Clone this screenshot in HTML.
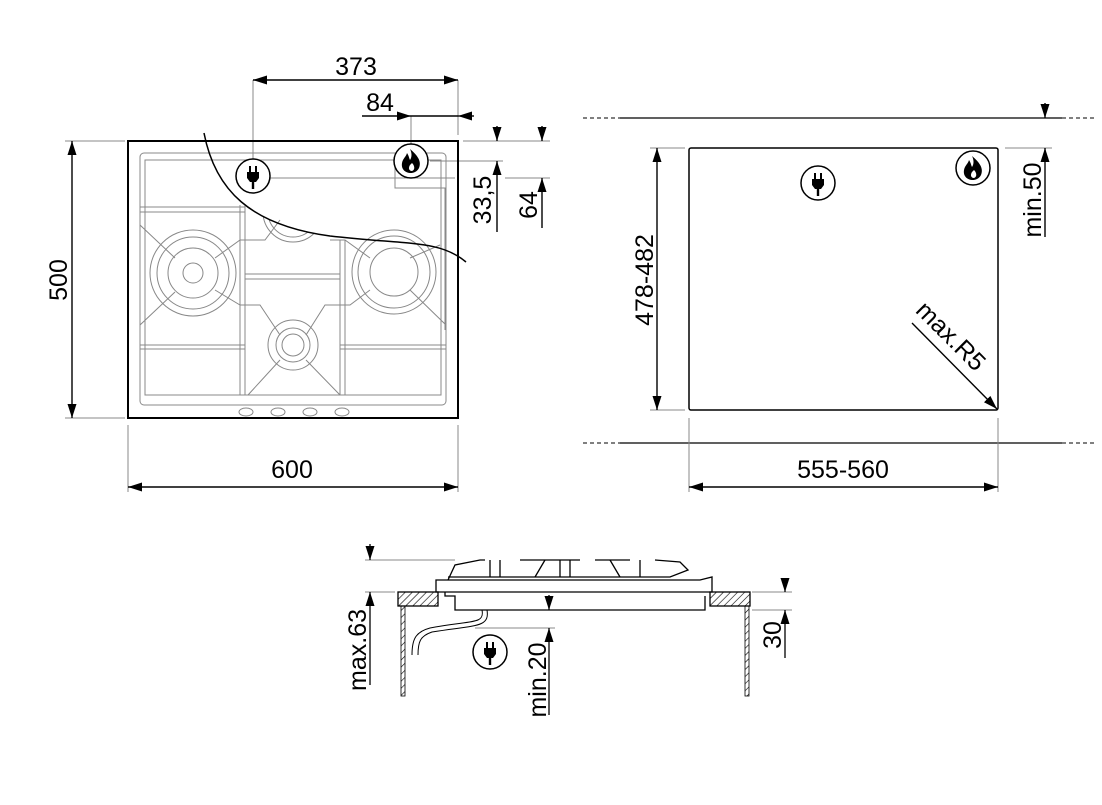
<!DOCTYPE html>
<html><head><meta charset="utf-8"><style>
html,body{margin:0;padding:0;background:#fff;}
svg{display:block;}
text{font-family:"Liberation Sans",sans-serif;fill:#000;}
</style></head><body>
<svg width="1102" height="805" viewBox="0 0 1102 805" xmlns="http://www.w3.org/2000/svg">
<defs>
<marker id="a" viewBox="0 0 14 9" refX="14" refY="4.5" markerWidth="14" markerHeight="9" markerUnits="userSpaceOnUse" orient="auto"><path d="M0,0 L14,4.5 L0,9 z" fill="#000"/></marker>
<pattern id="h" width="5" height="5" patternUnits="userSpaceOnUse" patternTransform="rotate(45)"><line x1="0" y1="0" x2="0" y2="5" stroke="#000" stroke-width="1.2"/></pattern>
<clipPath id="below"><path d="M204,133 C215,190 250,225 330,236 C410,245 440,240 466,262 L466,430 L120,430 L120,133 z"/></clipPath>
<g id="plug"><circle r="17" fill="#fff" stroke="#000" stroke-width="1.5"/><rect x="-4" y="-10" width="2" height="6"/><rect x="2" y="-10" width="2" height="6"/><path d="M-6,-4 H6 V2 L3,6 H-3 L-6,2 z"/><rect x="-1.2" y="5" width="2.4" height="8"/></g>
<g id="flame"><circle r="17" fill="#fff" stroke="#000" stroke-width="1.5"/><path d="M-1,-12 C6,-6 11,0 8,7 C6,11 2,12 0,12 C-6,12 -10,8 -9,2 C-8,-3 -5,-4 -4,-8 C-2,-5 -2,-3 -1,-1 C1,-4 1,-8 -1,-12 z"/><path d="M1,2 C4,5 4,9 1,10 C-2,10 -3,7 -1,4 z" fill="#fff"/></g>
</defs>
<g stroke="#000" fill="none">
<g stroke="#888" stroke-width="1">
<rect x="140" y="153" width="306" height="252" rx="4"/>
<rect x="145" y="160" width="296" height="235"/>
<line x1="140" y1="207" x2="245" y2="207"/><line x1="140" y1="212" x2="245" y2="212"/>
<line x1="140" y1="345" x2="245" y2="345"/><line x1="140" y1="349" x2="245" y2="349"/>
<line x1="340" y1="345" x2="446" y2="345"/><line x1="340" y1="349" x2="446" y2="349"/>
<line x1="240" y1="205" x2="240" y2="395"/><line x1="245" y1="205" x2="245" y2="395"/>
<line x1="340" y1="240" x2="340" y2="395"/><line x1="345" y1="240" x2="345" y2="395"/>
<line x1="245" y1="274" x2="340" y2="274"/><line x1="245" y1="279" x2="340" y2="279"/>
<circle cx="193" cy="273" r="43"/><circle cx="193" cy="273" r="36"/><circle cx="193" cy="273" r="25"/><circle cx="193" cy="273" r="10"/>
<circle cx="394" cy="272" r="42"/><circle cx="394" cy="272" r="36"/><circle cx="394" cy="272" r="24"/>
<circle cx="293" cy="345" r="25"/><circle cx="293" cy="345" r="17"/><circle cx="293" cy="345" r="11"/>
<g clip-path="url(#below)"><circle cx="293" cy="212" r="30"/><circle cx="293" cy="212" r="25"/></g>
<path d="M140,225 L175,258 M140,325 L175,292 M215,258 L240,240 L265,240 L280,220 M215,290 L240,305 L260,305 L280,335 M306,335 L325,305 L350,305 L370,290 M370,258 L345,240 L330,240 M410,258 L440,245 M410,290 L446,325 M280,360 L248,395 M306,360 L340,395"/>
<ellipse cx="246" cy="412" rx="7" ry="4"/><ellipse cx="278" cy="412" rx="7" ry="4"/><ellipse cx="310" cy="412" rx="7" ry="4"/><ellipse cx="342" cy="412" rx="7" ry="4"/>
<line x1="270" y1="178" x2="455" y2="178"/><line x1="430" y1="161" x2="503" y2="161"/>
<path d="M395,168 V188 H445 V330"/>
<line x1="463" y1="141" x2="550" y2="141"/><line x1="505" y1="178" x2="550" y2="178"/>
<line x1="253" y1="80" x2="253" y2="160"/><line x1="458" y1="80" x2="458" y2="135"/>
<line x1="411" y1="116" x2="411" y2="144"/>
<line x1="65" y1="141" x2="125" y2="141"/><line x1="65" y1="418" x2="125" y2="418"/>
<line x1="128" y1="425" x2="128" y2="492"/><line x1="458" y1="425" x2="458" y2="492"/>
</g>
<rect x="128" y="141" width="330" height="277" stroke-width="2"/>
<path d="M204,133 C215,190 250,225 330,236 C410,245 440,240 466,262" stroke-width="1.5"/>
<g stroke-width="1.4">
<line x1="72" y1="280" x2="72" y2="141" marker-end="url(#a)"/><line x1="72" y1="280" x2="72" y2="418" marker-end="url(#a)"/>
<line x1="293" y1="487" x2="128" y2="487" marker-end="url(#a)"/><line x1="293" y1="487" x2="458" y2="487" marker-end="url(#a)"/>
<line x1="356" y1="80" x2="253" y2="80" marker-end="url(#a)"/><line x1="356" y1="80" x2="458" y2="80" marker-end="url(#a)"/>
<line x1="362" y1="116" x2="411" y2="116" marker-end="url(#a)"/><line x1="411" y1="116" x2="458" y2="116"/><line x1="474" y1="116" x2="458" y2="116" marker-end="url(#a)"/>
<line x1="497" y1="126" x2="497" y2="141" marker-end="url(#a)"/>
<path d="M497,161 V232"/>
<line x1="542" y1="126" x2="542" y2="141" marker-end="url(#a)"/><line x1="542" y1="228" x2="542" y2="178" marker-end="url(#a)"/>
</g>
<path d="M497,161 L492.5,175 L501.5,175 z" fill="#000" stroke="none"/>
</g>
<use href="#plug" x="253" y="176"/><use href="#flame" x="411" y="161"/>
<text x="356" y="75" font-size="25" text-anchor="middle">373</text>
<text x="380" y="111" font-size="25" text-anchor="middle">84</text>
<text x="292" y="478" font-size="25" text-anchor="middle">600</text>
<text transform="translate(67,280) rotate(-90)" font-size="25" text-anchor="middle">500</text>
<text transform="translate(491,200) rotate(-90)" font-size="25" text-anchor="middle">33,5</text>
<text transform="translate(537,205) rotate(-90)" font-size="25" text-anchor="middle">64</text>

<g stroke="#000" fill="none">
<line x1="620" y1="118" x2="1062" y2="118" stroke-width="1.2"/><line x1="583" y1="118" x2="620" y2="118" stroke-dasharray="4,3"/><line x1="1062" y1="118" x2="1095" y2="118" stroke-dasharray="4,3"/>
<line x1="620" y1="443" x2="1062" y2="443" stroke-width="1.2"/><line x1="583" y1="443" x2="620" y2="443" stroke-dasharray="4,3"/><line x1="1062" y1="443" x2="1095" y2="443" stroke-dasharray="4,3"/>
<rect x="689" y="148" width="309" height="262" rx="2" stroke-width="1.5"/>
<g stroke="#888"><line x1="650" y1="148" x2="685" y2="148"/><line x1="650" y1="410" x2="685" y2="410"/><line x1="1005" y1="148" x2="1052" y2="148"/><line x1="689" y1="418" x2="689" y2="492"/><line x1="998" y1="418" x2="998" y2="492"/></g>
<g stroke-width="1.4">
<line x1="657" y1="280" x2="657" y2="148" marker-end="url(#a)"/><line x1="657" y1="280" x2="657" y2="410" marker-end="url(#a)"/>
<line x1="843" y1="487" x2="689" y2="487" marker-end="url(#a)"/><line x1="843" y1="487" x2="998" y2="487" marker-end="url(#a)"/>
<line x1="1045" y1="103" x2="1045" y2="118" marker-end="url(#a)"/><line x1="1045" y1="237" x2="1045" y2="148" marker-end="url(#a)"/>
<line x1="912" y1="323" x2="997" y2="409" marker-end="url(#a)"/>
</g>
</g>
<use href="#plug" x="818" y="183"/><use href="#flame" x="973" y="168"/>
<text x="843" y="478" font-size="25" text-anchor="middle">555-560</text>
<text transform="translate(653,280) rotate(-90)" font-size="25" text-anchor="middle">478-482</text>
<text transform="translate(1041,200) rotate(-90)" font-size="25" text-anchor="middle">min.50</text>
<text transform="translate(945,342) rotate(45)" font-size="25" text-anchor="middle">max.R5</text>

<g stroke="#000" fill="none" stroke-width="1.3">
<rect x="398" y="592" width="40" height="14" fill="url(#h)"/>
<rect x="710" y="592" width="40" height="14" fill="url(#h)"/>
<rect x="401" y="606" width="4" height="90" fill="url(#h)" stroke-width="0.8"/>
<rect x="745" y="606" width="4" height="90" fill="url(#h)" stroke-width="0.8"/>
<path d="M436,580 L448,580 L700,580 L712,577 L712,592 L436,592 z M445,592 V596 H455 V610 H705 V596"/>
<path d="M448,580 L455,565 L480,560 L485,560 M520,560 L580,560 M595,560 L630,560 M655,560 L680,562 L688,570 L670,577 L448,577"/>
<path d="M490,560 V577 M500,560 V577 M560,560 V577 M570,560 V577 M640,560 V577 M535,577 L545,560 M610,560 L620,577"/>
<path d="M482,610 C485,625 470,620 430,628 C415,632 412,640 412,655 M487,610 C490,628 475,625 432,632 C420,636 418,642 418,655" stroke-width="1"/>
<g stroke="#888" stroke-width="1"><line x1="365" y1="560" x2="455" y2="560"/><line x1="365" y1="592" x2="395" y2="592"/><line x1="475" y1="628" x2="555" y2="628"/><line x1="752" y1="592" x2="792" y2="592"/><line x1="752" y1="610" x2="792" y2="610"/></g>
<line x1="370" y1="544" x2="370" y2="560" marker-end="url(#a)"/><line x1="370" y1="685" x2="370" y2="592" marker-end="url(#a)"/>
<line x1="549" y1="595" x2="549" y2="610" marker-end="url(#a)"/><line x1="549" y1="715" x2="549" y2="628" marker-end="url(#a)"/>
<line x1="785" y1="578" x2="785" y2="592" marker-end="url(#a)"/><line x1="785" y1="658" x2="785" y2="610" marker-end="url(#a)"/>
</g>
<use href="#plug" x="490" y="652"/>
<text transform="translate(366,650) rotate(-90)" font-size="25" text-anchor="middle">max.63</text>
<text transform="translate(546,680) rotate(-90)" font-size="25" text-anchor="middle">min.20</text>
<text transform="translate(781,635) rotate(-90)" font-size="25" text-anchor="middle">30</text>
</svg>
</body></html>
